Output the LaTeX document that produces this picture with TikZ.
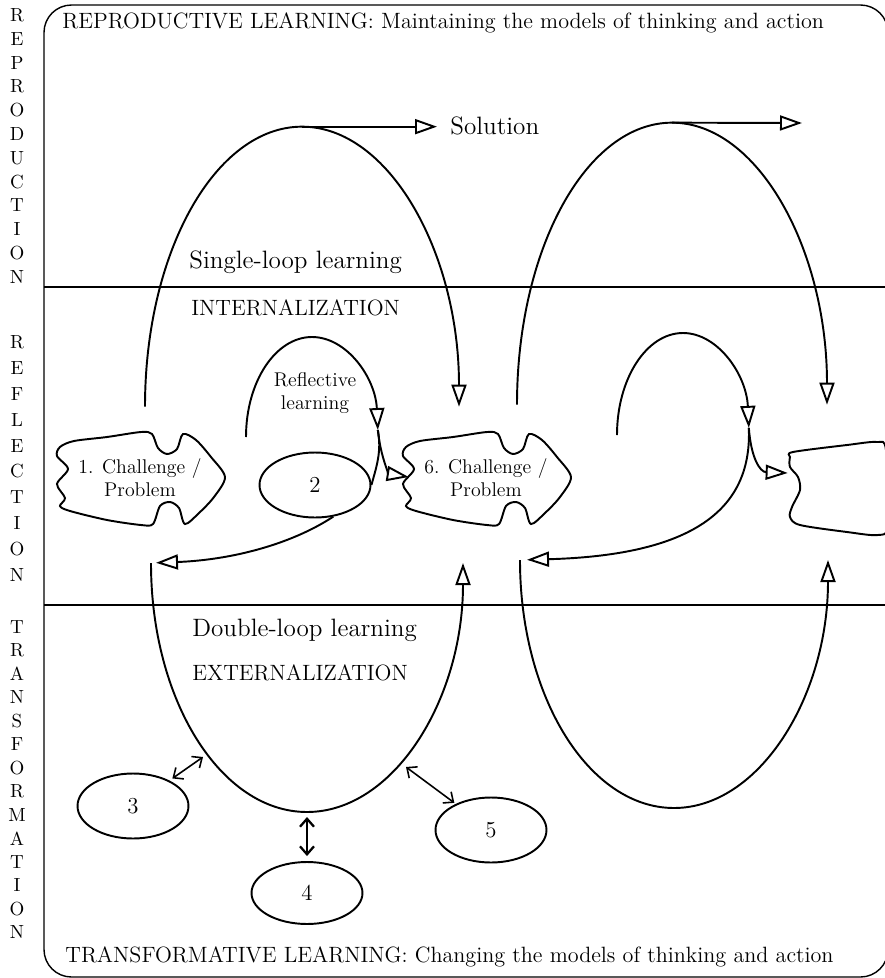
\documentclass[tikz,border=0pt]{standalone}
\usepackage{fontspec}
\usetikzlibrary{arrows.meta,shapes.geometric,calc}

\begin{document}
\begin{tikzpicture}[
    x=0.02cm, y=0.02cm,
    loopline/.style={line width=1.1pt},
    arrow/.style={loopline, -{Triangle[open, length=4.4mm, width=3mm]}},
    dblarrow/.style={line width=0.9pt, {Straight Barb[length=1.6mm, width=2.8mm]}-{Straight Barb[length=1.6mm, width=2.8mm]}},
    divider/.style={line width=0.8pt},
    challenge/.style={minimum width=3.2cm, minimum height=1.84cm, align=center, inner sep=0pt, font=\fontsize{11.3}{13}\selectfont},
    ellbox/.style={ellipse, draw, line width=1.1pt, minimum width=2.22cm, minimum height=1.3cm, inner sep=0pt, font=\fontsize{13}{15}\selectfont},
    lbl/.style={anchor=west, inner sep=0pt, font=\fontsize{14.3}{16}\selectfont},
    caps/.style={lbl, font=\fontsize{12.6}{15}\selectfont},
    sideletter/.style={inner sep=0pt, font=\fontsize{10.8}{12}\selectfont},
]

\useasboundingbox (0,0) rectangle (885,-978);
\clip (0,0) rectangle (885,-978);

% Frame and the three bands
\draw[divider, rounded corners=0.55cm] (44,-5) rectangle (888,-977);
\draw[divider] (44,-287) -- (888,-287);
\draw[divider] (44,-605) -- (888,-605);

% Side labels
\foreach \s [count=\i] in {R,E,P,R,O,D,U,C,T,I,O,N}
    \node[sideletter] (rep\i) at (17,{-15-23.8*(\i-1)}) {\s};
\foreach \s [count=\i] in {R,E,F,L,E,C,T,I,O,N}
    \node[sideletter] (ref\i) at (17,{-342-25.9*(\i-1)}) {\s};
\foreach \s [count=\i] in {T,R,A,N,S,F,O,R,M,A,T,I,O,N}
    \node[sideletter] (tra\i) at (17,{-627-23.5*(\i-1)}) {\s};

% Band texts
\node[caps] (title) at (62,-23) {REPRODUCTIVE LEARNING: Maintaining the models of thinking and action};
\node[caps] (bottom) at (65,-957) {TRANSFORMATIVE LEARNING: Changing the models of thinking and action};
\node[lbl] (single) at (189,-262) {Single-loop learning};
\node[caps] (intern) at (191,-308) {INTERNALIZATION};
\node[lbl] (double) at (192,-630) {Double-loop learning};
\node[caps] (extern) at (192,-673) {EXTERNALIZATION};
\node[lbl] (sol) at (450,-126) {Solution};
\node[challenge, minimum width=0pt, minimum height=0pt] (refl) at (315,-393) {Reflective\\learning};

% Challenges
\node[challenge] (ch1) at (140,-478) {1. Challenge /\\Problem};
\node[challenge] (ch6) at (486,-478) {6. Challenge /\\Problem};
\node[minimum width=1.92cm, minimum height=1.84cm] (chx) at (838,-489) {};
\foreach \c in {ch1,ch6}
    \draw[loopline, shift={(\c.center)}] plot[smooth cycle, tension=0.5] coordinates {
        (-80,31) (-66,37) (-33,41) (1,46) (12,44) (18,30) (27,24) (37,29) (43,44)
        (56,38) (71,21) (85,1) (74,-19) (59,-35) (45,-46) (39,-30) (30,-24) (20,-28)
        (13,-46) (1,-47) (-33,-42) (-70,-33) (-80,-28) (-75,-20) (-83,-6) (-72,9) (-83,22)};
\draw[loopline, shift={(chx.center)}] plot[smooth cycle, tension=0.5] coordinates {
    (-45,37) (9,44) (39,47) (48,39) (50,-36) (40,-46) (9,-43) (-38,-36)
    (-48,-28) (-46,-18) (-38,-1) (-40,12) (-48,22) (-48,32)};

% Ellipses
\node[ellbox] (e2) at (315,-485) {2};
\node[ellbox] (e3) at (133,-806) {3};
\node[ellbox, minimum height=1.24cm] (e4) at (307,-893) {4};
\node[ellbox] (e5) at (491,-830) {5};

% Free ends
\coordinate (rf1) at (246,-437);
\coordinate (rf2) at (617,-435);
\coordinate (u1l) at (151,-563);
\coordinate (u2l) at (520,-560);
\coordinate (sol2) at (802,-123);
\coordinate (u3) at (203,-757);
\coordinate (u4) at (307,-812);
\coordinate (u5) at (406,-767);

% Single-loop learning
\draw[arrow] ($(ch1.north)+(5,25)$) arc[start angle=180, end angle=90, x radius=157, y radius=280] coordinate (top1)
    arc[start angle=90, end angle=0, x radius=157, y radius=280];
\draw[arrow, shorten >=0.26cm] (top1) -- (top1 -| sol.west);
\draw[arrow] ($(ch6.north)+(31,27)$) arc[start angle=180, end angle=90, x radius=155, y radius=282] coordinate (top2)
    arc[start angle=90, end angle=0, x radius=155, y radius=282];
\draw[arrow] (top2) -- (sol2);

% Reflective learning
\draw[arrow] (rf1) arc[start angle=180, end angle=4, x radius=66, y radius=100] coordinate (rx1);
\draw[arrow] (rx1) .. controls (381,-460) and (390,-474) .. ($(ch6.west)+(3,1)$);
\draw[loopline] (rx1) .. controls (382,-452) and (376,-468) .. (e2.east);
\draw[arrow, shorten >=0.1cm] (e2.-60) .. controls (290,-545) and (230,-560) .. (u1l);
\draw[arrow] (rf2) arc[start angle=180, end angle=4, x radius=66, y radius=102] coordinate (rx2);
\draw[arrow] (rx2) .. controls (751,-458) and (760,-472) .. ($(chx.west)+(-2,16)$);
\draw[arrow, shorten >=0.14cm] (rx2) .. controls (752,-505) and (700,-555) .. (u2l);

% Double-loop learning
\draw[arrow] (u1l) arc[start angle=180, end angle=360, x radius=156, y radius=249];
\draw[arrow] (u2l) arc[start angle=180, end angle=360, x radius=154, y radius=248];
\draw[dblarrow, shorten <=2pt] (e3) -- (u3);
\draw[dblarrow, line width=1.3pt, shorten <=0.1cm, shorten >=0.1cm] (u4) -- (e4);
\draw[dblarrow, shorten >=1pt] (u5) -- (e5);

\end{tikzpicture}
\end{document}
